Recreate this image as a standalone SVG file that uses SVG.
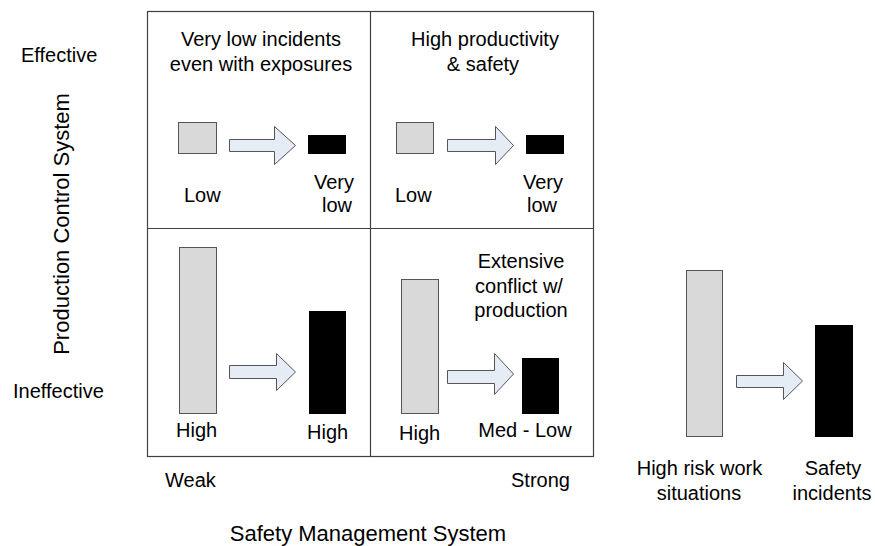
<svg xmlns="http://www.w3.org/2000/svg" width="875" height="546" viewBox="0 0 875 546">
<style>
text{font-family:"Liberation Sans",Arial,sans-serif;font-size:20px;fill:#000}
.ax{font-size:22px}
.m{text-anchor:middle}
.grid{fill:none;stroke:#404040;stroke-width:1.2}
.lt{fill:#d9d9d9;stroke:#555;stroke-width:1}
.bk{fill:#000;stroke:#000;stroke-width:1}
.ar{fill:#e6ecf6;stroke:#555;stroke-width:1;stroke-linejoin:miter}
</style>
<rect width="875" height="546" fill="#fff"/>
<g id="matrix">
<rect class="grid" x="147.5" y="11.5" width="446" height="445"/>
<line class="grid" x1="370.5" y1="11.5" x2="370.5" y2="456.5"/>
<line class="grid" x1="147.5" y1="228.5" x2="593.5" y2="228.5"/>
</g>
<g id="axes">
<text x="21" y="61.5">Effective</text>
<text x="13" y="397.5">Ineffective</text>
<text class="ax m" transform="translate(69,224) rotate(-90)">Production Control System</text>
<text x="165" y="487">Weak</text>
<text x="511" y="487">Strong</text>
<text class="ax m" x="368" y="541">Safety Management System</text>
</g>
<g id="cell-top-left">
<text class="m" x="261" y="46">Very low incidents</text>
<text class="m" x="261" y="71">even with exposures</text>
<rect class="lt" x="178.5" y="122.5" width="38" height="31"/>
<rect class="bk" x="308.5" y="135.5" width="37" height="18"/>
<text x="184" y="201.5">Low</text>
<text class="m" x="334" y="189">Very</text>
<text class="m" x="337" y="212">low</text>
</g>
<g id="cell-top-right">
<text class="m" x="485" y="46">High productivity</text>
<text class="m" x="483" y="71">&amp; safety</text>
<rect class="lt" x="396.5" y="122.5" width="37" height="31"/>
<rect class="bk" x="526.5" y="135.5" width="37" height="18"/>
<text x="395" y="201.5">Low</text>
<text class="m" x="543" y="189">Very</text>
<text class="m" x="542" y="212">low</text>
</g>
<g id="cell-bottom-left">
<rect class="lt" x="179.5" y="247.5" width="37" height="166"/>
<rect class="bk" x="309.5" y="311.5" width="36" height="102"/>
<text x="176" y="437">High</text>
<text x="307" y="439">High</text>
</g>
<g id="cell-bottom-right">
<text class="m" x="521" y="268">Extensive</text>
<text class="m" x="519" y="293">conflict w/</text>
<text class="m" x="521" y="317">production</text>
<rect class="lt" x="401.5" y="279.5" width="37" height="134"/>
<rect class="bk" x="522.5" y="358.5" width="36" height="55"/>
<text x="399" y="440">High</text>
<text class="m" x="525" y="437">Med - Low</text>
</g>
<g id="legend">
<rect class="lt" x="686.5" y="270.5" width="36" height="166"/>
<rect class="bk" x="815.5" y="325.5" width="37" height="111"/>
<text class="m" x="699.5" y="475">High risk work</text>
<text class="m" x="699" y="500">situations</text>
<text class="m" x="833" y="475">Safety</text>
<text class="m" x="832" y="500">incidents</text>
</g>
<g id="connectors">
<polygon class="ar" points="229.5,139.5 274.5,139.5 274.5,126.5 295.5,145.5 274.5,164.5 274.5,151.5 229.5,151.5"/>
<polygon class="ar" points="447.5,139.5 495.5,139.5 495.5,126.5 513.5,145.5 495.5,164.5 495.5,151.5 447.5,151.5"/>
<polygon class="ar" points="229.5,365.5 276.5,365.5 276.5,353.5 295.5,372 276.5,390.5 276.5,378.5 229.5,378.5"/>
<polygon class="ar" points="447.5,370.5 494.5,370.5 494.5,353.5 513.5,374 494.5,394.5 494.5,383.5 447.5,383.5"/>
<polygon class="ar" points="736.5,375.5 783.5,375.5 783.5,362.5 802.5,381 783.5,399.5 783.5,387.5 736.5,387.5"/>
</g>
</svg>
